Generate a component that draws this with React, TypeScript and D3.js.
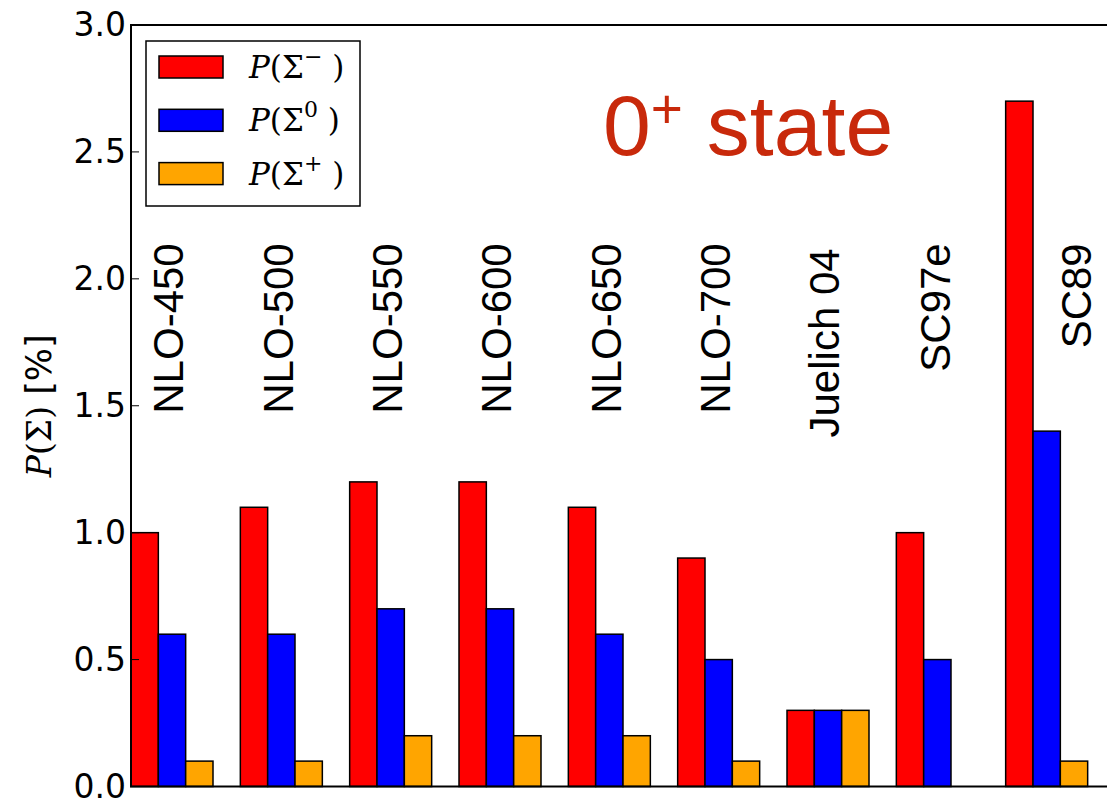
import React from "react";
import * as d3 from "d3";

// Interactions / models shown on the horizontal axis
const models = [
  "NLO-450",
  "NLO-500",
  "NLO-550",
  "NLO-600",
  "NLO-650",
  "NLO-700",
  "Juelich 04",
  "SC97e",
  "SC89",
];

// Sigma admixture probabilities in percent
const sigmaMinus = [1.0, 1.1, 1.2, 1.2, 1.1, 0.9, 0.3, 1.0, 2.7];
const sigmaZero = [0.6, 0.6, 0.7, 0.7, 0.6, 0.5, 0.3, 0.5, 1.4];
const sigmaPlus = [0.1, 0.1, 0.2, 0.2, 0.2, 0.1, 0.3, 0.0, 0.1];

// Rotated label anchors in data units (x = group index, y = top of text)
const labelX = [0.48, 1.48, 2.48, 3.48, 4.48, 5.48, 6.48, 7.49, 8.78];
const labelTop = [2.14, 2.14, 2.14, 2.14, 2.14, 2.14, 2.12, 2.14, 2.14];

const yTicks = [0.0, 0.5, 1.0, 1.5, 2.0, 2.5, 3.0];

const series = [
  { values: sigmaMinus, color: "#ff0000", sup: "\u2212" },
  { values: sigmaZero, color: "#0000ff", sup: "0" },
  { values: sigmaPlus, color: "#ffa500", sup: "+" },
];

const W = 1107;
const H = 800;
const BAR_W = 0.25;

export default function App() {
  const x = d3.scaleLinear().domain([0, 9]).range([131, 1115]);
  const y = d3.scaleLinear().domain([0, 3]).range([786.5, 25]);
  const fmt = d3.format(".1f");

  const sansLabel = "'Liberation Sans', Arial, sans-serif";
  const tickFont = "'DejaVu Sans', sans-serif";
  const mathFont = "'DejaVu Serif', 'Liberation Serif', serif";

  return (
    <svg
      width={W}
      height={H}
      style={{ position: "absolute", left: 0, top: 0, background: "#fff" }}
    >
      <rect x={0} y={0} width={W} height={H} fill="#fff" />

      {/* bars */}
      {series.map((s, si) =>
        s.values.map((v, i) => {
          const x0 = x(i + si * BAR_W);
          const x1 = x(i + (si + 1) * BAR_W);
          return (
            <rect
              key={`${si}-${i}`}
              x={x0}
              y={y(v)}
              width={x1 - x0}
              height={y(0) - y(v)}
              fill={s.color}
              stroke="#000"
              strokeWidth={1.5}
            />
          );
        })
      )}

      {/* model labels */}
      {models.map((m, i) => (
        <text
          key={m}
          transform={`translate(${x(labelX[i])},${y(labelTop[i])}) rotate(-90)`}
          textAnchor="end"
          fontFamily={sansLabel}
          fontSize={42}
          fill="#000"
        >
          {m}
        </text>
      ))}

      {/* state annotation */}
      <text
        x={603}
        y={155}
        fontFamily={sansLabel}
        fontSize={86}
        fill="#c8290b"
        style={{ whiteSpace: "pre" }}
      >
        <tspan>0</tspan>
        <tspan fontSize={55} dy={-27}>
          +
        </tspan>
        <tspan dy={27}>{" state"}</tspan>
      </text>

      {/* axes frame */}
      <rect
        x={x(0)}
        y={y(3)}
        width={x(9) - x(0)}
        height={y(0) - y(3)}
        fill="none"
        stroke="#000"
        strokeWidth={2}
      />

      {/* y ticks (inward, both sides) */}
      {yTicks.map((t) => (
        <g key={t}>
          <line x1={x(0)} x2={x(0) + 8} y1={y(t)} y2={y(t)} stroke="#000" strokeWidth={1} />
          <line x1={x(9)} x2={x(9) - 8} y1={y(t)} y2={y(t)} stroke="#000" strokeWidth={1} />
          <text
            x={126}
            y={y(t) + 11}
            textAnchor="end"
            fontFamily={tickFont}
            fontSize={33}
            fill="#000"
          >
            {fmt(t)}
          </text>
        </g>
      ))}

      {/* y axis title */}
      <text
        transform={`translate(51,${(y(0) + y(3)) / 2}) rotate(-90)`}
        textAnchor="middle"
        fill="#000"
        style={{ whiteSpace: "pre" }}
      >
        <tspan fontFamily={mathFont} fontStyle="italic" fontSize={33}>
          P
        </tspan>
        <tspan fontFamily={mathFont} fontSize={33}>
          (Σ)
        </tspan>
        <tspan fontFamily={tickFont} fontSize={35}>
          {" [%]"}
        </tspan>
      </text>

      {/* legend */}
      <rect x={146} y={41} width={214} height={165} fill="#fff" stroke="#000" strokeWidth={1.5} />
      {series.map((s, si) => {
        const top = 56 + si * 53.3;
        return (
          <g key={si}>
            <rect x={159} y={top} width={64} height={22} fill={s.color} stroke="#000" strokeWidth={1.5} />
            <text x={249} y={top + 22} fontFamily={mathFont} fontSize={31} fill="#000" style={{ whiteSpace: "pre" }}>
              <tspan fontStyle="italic">P</tspan>
              <tspan>(Σ</tspan>
              <tspan fontSize={22} dy={-14}>
                {s.sup}
              </tspan>
              <tspan dy={14}>{si === 1 ? " )" : " )"}</tspan>
            </text>
          </g>
        );
      })}
    </svg>
  );
}
